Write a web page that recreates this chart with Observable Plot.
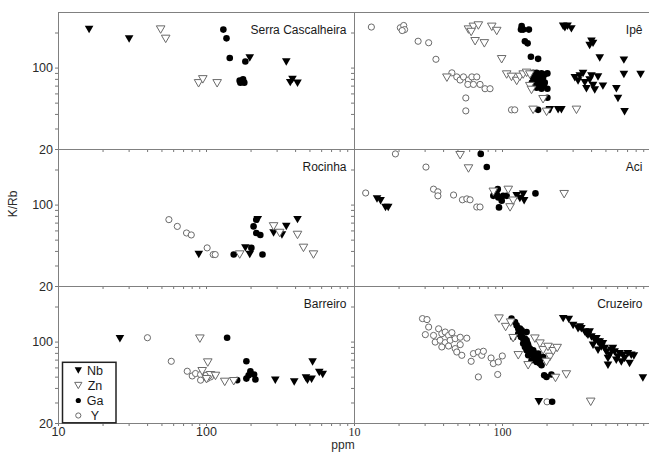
<!DOCTYPE html>
<html><head><meta charset="utf-8">
<script src="https://cdn.jsdelivr.net/npm/d3@7"></script>
<script src="https://cdn.jsdelivr.net/npm/@observablehq/plot@0.6"></script>
<style>body{margin:0;background:#fff}#chart{width:649px;height:459px}</style>
</head><body><div id="chart"></div>
<script>
// ---- tick values / labels ----
const xTicks = [10,20,30,40,50,60,70,80,90,100,200,300,400,500,600,700,800,900,1000];
const yTicks = [20,30,40,50,60,70,80,90,100,200];
const xTickLabels = [10, 100];
const yTickLabels = [20, 100];
const seriesNames = ["Nb","Zn","Ga","Y"];
const panelNames = ["Serra Cascalheira","Ipê","Rocinha","Aci","Barreiro","Cruzeiro"];

// ---- data: [ppm, K/Rb] ----
const serraNb = [[16.1,214],[30,178],[196,122],[346,113],[368,75],[381,80],[412,74]];
const serraZn = [[49,214],[53,178],[88.4,74],[94.4,80],[118,74]];
const serraGa = [[130,214],[136.5,180],[143.6,122],[183,114],[167.5,78],[176.6,80],[180,75],[169.4,75]];
const serraY = [];

const ipeY = [[13.0,225],[20.4,222],[21.5,232],[21.8,214],[21.0,210],[26.9,170],[31.7,165],[35.5,119],[45.5,91],[49.1,84],[51.7,79],[54.5,84],[58.9,79],[62.1,84],[67,84],[58.3,72.4],[63.6,72.4],[70.5,72.4],[76.2,66.5],[82.4,66.5],[56.5,55.4],[56.5,42.9],[115,43.8],[121,43.8]];
const ipeZn = [[42.1,82.7],[58.9,214],[63.6,226],[68.7,232],[61.4,204],[84.6,226],[91.4,208],[65.3,170],[75.4,163],[98.7,119],[106.7,88],[115,84],[124.7,77.5],[131,84],[138,88],[145.5,91],[153,88],[153,70],[157,64.9],[188,54],[161,43.8],[198.6,42.1],[316,43.8]];
const ipeGa = [[134.7,229],[138,214],[150.8,214],[133.3,214],[141.7,170],[147.8,163],[155.6,125],[174,120],[161,91],[170,91],[183.5,90],[201,90],[161,82.7],[174,81],[188,82.7],[165.5,75],[179,74],[193,75],[170,67.9],[183.5,66.5],[201,66.5],[201,55.7],[174,43.8],[204,43.8],[165,86],[178,86],[192,88],[168,78],[186,78],[175,70],[190,70],[158,75]];
const ipeNb = [[257,229],[275,229],[292,217],[264,222],[399,170],[388,156],[409,163],[454,122],[661,117],[661,88],[857,88],[308,82.7],[350,90],[399,85.5],[442,84],[324,77.5],[360,75],[409,71],[369,66.5],[420,64.9],[477,70],[333,85.5],[388,79],[588,66.5],[603,54.7],[668,42.1],[209,43.8],[237.5,43.8],[250,43.8]];

const rocinhaY = [[55.7,75],[63.5,65.6],[73.3,57.6],[78.9,55.4],[101,42.9],[111,37.6],[114.5,37.6]];
const rocinhaNb = [[88.7,37.6],[183,42.9],[196,37.6],[222,75],[284,57.6],[323.5,55.4],[346,65.6],[412,75]];
const rocinhaZn = [[167.6,37.6],[284,65.6],[312,57.6],[412,55.4],[452,42.9],[528,37.6]];
const rocinhaGa = [[217,75],[208,65.6],[217,57.6],[231,55.4],[152.7,37.6],[201,42.9],[239,37.6]];

const aciY = [[18.9,275],[30.4,212],[34.2,137],[36.6,130],[36.6,120],[11.9,127],[46.7,122],[53.6,111],[57.4,113],[60.4,111],[67,96.3],[70.5,96.3]];
const aciNb = [[14.2,113],[15.0,109],[16.2,95.5],[16.9,95.5],[124.7,120],[138,124],[140,109],[131,114]];
const aciZn = [[51.7,268],[58.9,206],[86.7,130],[109.4,135],[112.5,95.5],[118,109],[261,124]];
const aciGa = [[71.3,275],[78.3,212],[92.9,137],[86.7,120],[93.7,116],[101,120],[98.8,109],[106.7,120],[94.7,95.5],[91.4,124],[167,126]];

const barreiroNb = [[26,107],[291.6,47.1],[391.5,45.5],[470,49.2],[513,48],[521,67.5],[578,54.8],[610,52.6],[481,47.1]];
const barreiroZn = [[90.2,107],[102,66.7],[93.5,56.2],[106.4,51.9],[115,51.2],[100,48],[132.8,45.5],[152.7,46.1]];
const barreiroY = [[39.9,109],[57.8,68.4],[74.1,56.2],[80.1,51.2],[84.3,53.7],[91.2,52.6],[91.2,47.1],[99.5,51.9],[101,48.6],[106.4,50.2]];
const barreiroGa = [[137.8,109],[186,68.4],[161,47.1],[186,48.6],[198,56.2],[209.6,52.6],[214,47.7],[192.7,51.9]];

const cruzeiroY = [[28.8,159],[30.9,156],[31.7,134.6],[30.1,115.9],[34.2,114],[37,130],[38.9,118],[41,122],[43.2,114],[45.5,120.5],[35.1,100],[37.9,103.6],[41,98.9],[44.3,103.6],[47.9,107],[51.8,110],[57.4,108],[38.9,90.8],[43.2,92.5],[47.9,87.9],[51.8,95.1],[49.1,82.2],[53.1,77],[63.6,79.6],[68.7,82.2],[72.4,77],[74.3,83.4],[61.4,68.4],[83.7,73],[86.7,65.4],[93.7,67.5],[99.7,76],[68.7,50.2],[92.8,52.7],[200,30.7]];
const cruzeiroZn = [[94.7,159],[105,134.6],[113.5,147],[118,108],[127.8,77],[149,63.2],[165.5,107],[179,97],[188.2,85],[203,90.8],[209,74.5],[198,67.5],[220,83.4],[234,88.9],[228,49.2],[270,52.7],[394.5,30.7]];
const cruzeiroGa = [[115,159],[118,110],[124.6,139],[131.2,130.4],[127.8,118],[134.7,114.2],[138,107],[141.8,100.2],[145.5,103.6],[149.2,93.8],[153.1,87.9],[145.5,85],[157.2,82.2],[161.3,77],[165.5,72.2],[169.9,67.5],[178.9,65.4],[183.6,63.2],[149.2,77],[157.2,69.8],[134.7,126],[141.8,90.7],[174.3,79.6],[188.2,74.5],[191.3,51.9],[198.4,50.2],[214,52.7],[216.5,30.7],[121.4,148.5],[127.8,130.4],[133.3,110.5],[141.8,107],[147.8,97],[153.1,82.2],[161.3,85],[165.5,79.6],[174.3,74.5],[178.9,69.8],[145.5,122],[138,97]];
const cruzeiroNb = [[176,30.7],[257,159],[280.5,156.6],[300,139],[324,130.4],[333,134.6],[359.5,122],[378,114.2],[399,110.5],[431,107],[454,100.2],[465,90.7],[490,87.9],[543,85],[572,82.2],[618,79.6],[651,77],[741,77],[772,76],[516,72.2],[587,69.8],[635,67.5],[516,63.2],[722,65.4],[888,49.2],[409,93.8],[442,85],[341,130.4],[369,118],[388,122],[420,103.6],[442,100.2],[477,97],[503,82.2],[530,77],[557,87.9],[603,74.5],[668,72.2],[703,79.6]];

// ---- assemble ----
const panels = [
  {name: panelNames[0], col: "L", row: "top", Nb: serraNb, Zn: serraZn, Ga: serraGa, Y: serraY},
  {name: panelNames[1], col: "R", row: "top", Nb: ipeNb, Zn: ipeZn, Ga: ipeGa, Y: ipeY},
  {name: panelNames[2], col: "L", row: "mid", Nb: rocinhaNb, Zn: rocinhaZn, Ga: rocinhaGa, Y: rocinhaY},
  {name: panelNames[3], col: "R", row: "mid", Nb: aciNb, Zn: aciZn, Ga: aciGa, Y: aciY},
  {name: panelNames[4], col: "L", row: "bot", Nb: barreiroNb, Zn: barreiroZn, Ga: barreiroGa, Y: barreiroY},
  {name: panelNames[5], col: "R", row: "bot", Nb: cruzeiroNb, Zn: cruzeiroZn, Ga: cruzeiroGa, Y: cruzeiroY}
];
const rows = [];
for (const p of panels) for (const s of seriesNames) for (const [x, y] of p[s]) rows.push({col: p.col, row: p.row, series: s, x, y});
const xLabelRows = [];
for (const col of ["L","R"]) for (const v of xTickLabels) xLabelRows.push({col, row: "bot", v});

const triangleDown = {
  draw(ctx, size) {
    const y = Math.sqrt(size / (3 * Math.sqrt(3)));
    const w = Math.sqrt(3) * y;
    ctx.moveTo(0, 1.5 * y);
    ctx.lineTo(w, -1.5 * y);
    ctx.lineTo(-w, -1.5 * y);
    ctx.closePath();
  }
};

const sans = "'Liberation Sans', Arial, Helvetica, sans-serif";
const serif = "'Liberation Serif', 'Times New Roman', serif";
const openStroke = "#6a6a6a";
const style = {
  Nb: {symbol: triangleDown, r: 3.2, fill: "#000", stroke: "none"},
  Zn: {symbol: triangleDown, r: 3.2, fill: "#fff", stroke: openStroke, strokeWidth: 1},
  Ga: {symbol: "circle", r: 3.3, fill: "#000", stroke: "none"},
  Y: {symbol: "circle", r: 3.1, fill: "#fff", stroke: openStroke, strokeWidth: 1}
};
const dotMark = s => Plot.dot(rows.filter(d => d.series === s), {x: "x", y: "y", fx: "col", fy: "row", ...style[s]});

const chart = Plot.plot({
  width: 649, height: 459,
  marginLeft: 57.5, marginRight: -2, marginTop: 11, marginBottom: 36,
  style: {fontFamily: sans, fontSize: "12.5px", color: "#222", background: "#fff"},
  x: {type: "log", domain: [10, 1000]},
  y: {type: "log", domain: [20, 300]},
  fx: {domain: ["L","R"], padding: 0, axis: null},
  fy: {domain: ["top","mid","bot"], padding: 0, axis: null},
  marks: [
    Plot.axisX({ticks: xTicks, tickSize: 3, tickFormat: () => "", facetAnchor: null, label: null, stroke: "#777"}),
    Plot.axisY({ticks: yTicks, tickSize: 3, tickFormat: () => "", facetAnchor: null, label: null, stroke: "#777"}),
    Plot.axisY({ticks: yTickLabels, tickSize: 0, tickPadding: 5.5, facetAnchor: "left", label: null, fontSize: 12.5, fill: "#2a2a2a"}),
    Plot.text(xLabelRows.filter(d => d.col === "L"), {x: "v", fx: "col", fy: "row", text: d => String(d.v), frameAnchor: "bottom", dy: 12, fontSize: 12.5, fill: "#2a2a2a"}),
    Plot.text(xLabelRows.filter(d => d.col === "R"), {x: "v", fx: "col", fy: "row", text: d => String(d.v), frameAnchor: "bottom", dy: 12, fontSize: 12, fontFamily: serif, fill: "#2a2a2a"}),
    Plot.frame({stroke: "#808080", strokeWidth: 1}),
    dotMark("Y"),
    dotMark("Nb"),
    dotMark("Ga"),
    dotMark("Zn"),
    Plot.text(panels, {fx: "col", fy: "row", text: "name", frameAnchor: "top-right", textAnchor: "end", dx: -8, dy: 13, fontSize: 12, fill: "#1a1a1a"})
  ]
});

const svg = d3.select(chart);
// axis titles
svg.append("text").attr("transform", "translate(13,204) rotate(-90)").attr("text-anchor", "middle").attr("dy", "0.35em")
  .attr("font-family", sans).attr("font-size", 12).attr("fill", "#2a2a2a").text("K/Rb");
svg.append("text").attr("x", 343).attr("y", 449).attr("text-anchor", "middle")
  .attr("font-family", sans).attr("font-size", 12).attr("fill", "#2a2a2a").text("ppm");
// legend
const lg = svg.append("g").attr("font-family", sans).attr("font-size", 12.5).attr("fill", "#1a1a1a");
lg.append("rect").attr("x", 62.5).attr("y", 362.3).attr("width", 53.5).attr("height", 60.5)
  .attr("fill", "#fff").attr("stroke", "#222").attr("stroke-width", 1.5);
seriesNames.forEach((s, i) => {
  const cy = 370.5 + i * 15;
  const st = style[s];
  const type = st.symbol === "circle" ? d3.symbolCircle : triangleDown;
  const rr = st.symbol === "circle" ? 2.6 : 2.7;
  lg.append("path").attr("transform", `translate(78.3,${cy})`)
    .attr("d", d3.symbol(type, Math.PI * rr * rr)())
    .attr("fill", st.fill).attr("stroke", st.stroke).attr("stroke-width", st.strokeWidth || 0);
  lg.append("text").attr("x", 95).attr("y", cy).attr("dy", "0.35em").text(s);
});
document.getElementById("chart").append(chart);
</script>
</body></html>
